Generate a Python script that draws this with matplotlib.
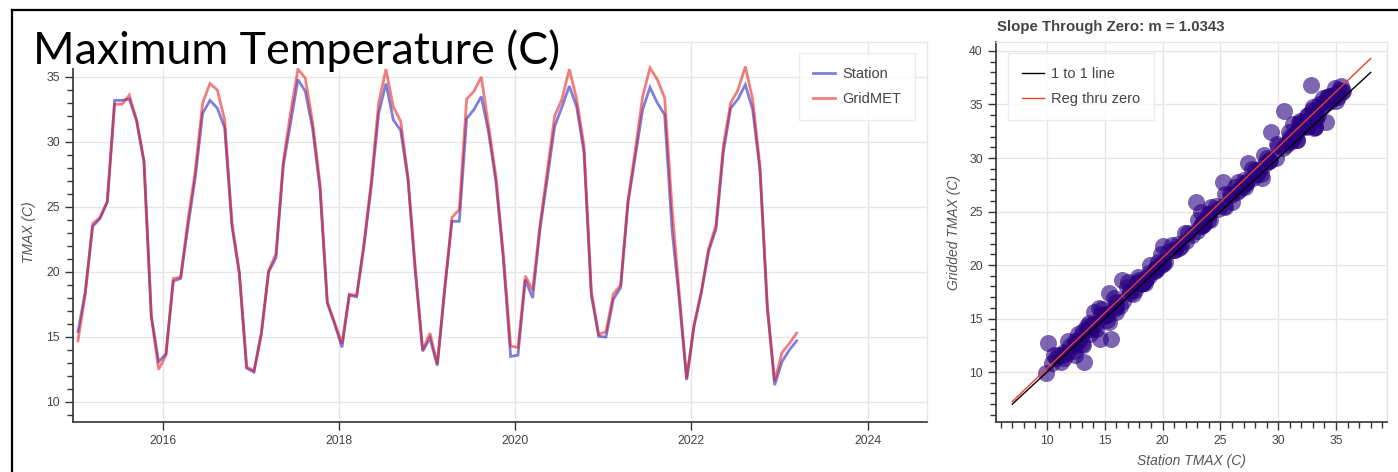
import numpy as np
import matplotlib
matplotlib.use("Agg")
import matplotlib.pyplot as plt
from matplotlib.ticker import MultipleLocator, FixedLocator
from matplotlib.lines import Line2D
from matplotlib.patches import Rectangle

# ---- monthly mean maximum temperature, Jan 2015 .. Mar 2023 (deg C) ----
start_year = 2015
station_tmax = [
    15.4, 18.5, 23.5, 24.1, 25.4, 33.2, 33.2, 33.3, 31.6, 28.5, 16.6, 13.1,
    13.7, 19.3, 19.5, 23.5, 27.3, 32.2, 33.2, 32.6, 31.1, 23.5, 19.9, 12.6,
    12.3, 15.2, 20.0, 21.1, 28.2, 31.5, 34.8, 33.9, 31.0, 26.4, 17.6, 16.0,
    14.2, 18.2, 18.1, 22.0, 26.6, 32.2, 34.5, 31.7, 30.9, 27.1, 20.0, 13.9,
    14.9, 12.8, 18.6, 23.9, 23.9, 31.8, 32.5, 33.5, 30.7, 26.9, 21.0, 13.5,
    13.6, 19.4, 18.0, 23.3, 27.2, 31.2, 32.7, 34.3, 32.7, 29.2, 18.2, 15.05,
    15.0, 17.9, 18.8, 25.3, 28.9, 32.5, 34.2, 33.0, 32.1, 23.3, 17.8, 11.7,
    15.8, 18.4, 21.6, 23.3, 29.2, 32.6, 33.3, 34.4, 32.5, 27.8, 17.2, 11.3,
    13.1, 14.0, 14.7,
]
gridmet_tmax = [
    14.7, 18.3, 23.7, 24.2, 25.4, 32.9, 32.9, 33.6, 31.7, 28.5, 16.6, 12.5,
    13.6, 19.5, 19.6, 24.0, 27.8, 33.0, 34.5, 34.0, 31.7, 23.8, 20.0, 12.7,
    12.4, 15.3, 20.1, 21.4, 28.5, 32.3, 35.6, 34.9, 31.5, 26.8, 17.7, 16.1,
    14.5, 18.3, 18.2, 22.2, 27.0, 33.0, 35.6, 32.7, 31.6, 27.3, 20.3, 14.0,
    15.3, 12.9, 18.7, 24.2, 24.8, 33.3, 33.9, 35.0, 31.2, 27.3, 21.4, 14.3,
    14.2, 19.7, 18.6, 23.6, 27.8, 32.0, 33.3, 35.6, 33.3, 29.7, 18.5, 15.2,
    15.4, 18.3, 19.0, 25.5, 29.4, 33.5, 35.7, 34.8, 33.4, 25.0, 18.3, 11.8,
    15.9, 18.5, 21.8, 23.6, 29.7, 33.0, 34.0, 35.8, 33.3, 28.1, 17.4, 11.6,
    13.8, 14.5, 15.3,
]

# additional station/gridded pairs from the longer period of record
extra_station = [
    9.9, 10.1, 13.2, 14.6, 15.5, 16.5, 15.4, 14.1, 22.9, 25.2,
    27.4, 28.6, 29.4, 30.5, 31.6, 32.8, 33.1, 35.0, 35.3, 35.5,
    35.2, 34.9, 35.6, 10.4, 10.8, 11.0, 11.5, 12.0, 12.4, 12.9,
    13.5, 16.0, 17.2, 18.8, 19.6, 20.5, 21.3, 22.2, 24.0, 24.6,
    25.8, 26.3, 27.0, 28.0, 29.0, 30.0, 31.0, 33.8, 34.2, 34.6,
    10.6, 11.2, 11.8, 12.3, 12.7, 13.0, 13.6, 14.2, 14.8, 15.2,
    15.8, 16.3, 16.9, 17.4, 17.9, 18.3, 18.9, 19.3, 19.9, 20.2,
    20.8, 21.4, 21.9, 22.5, 23.1, 23.6, 24.2, 24.8, 25.4, 25.9,
    26.5, 27.1, 27.7, 28.3, 28.8, 29.3, 29.9, 30.4, 30.9, 31.4,
    31.9, 32.4, 32.9, 33.4, 33.9, 34.4, 35.0, 35.4, 34.1, 33.0,
    20.0, 17.0, 12.4, 11.5, 26.0, 29.8, 31.3, 14.5, 16.0, 23.0,
]
extra_gridded = [
    9.9, 12.7, 10.9, 13.1, 13.1, 18.6, 17.4, 15.6, 25.9, 27.8,
    29.5, 28.1, 32.4, 34.4, 31.7, 36.8, 32.8, 36.0, 36.4, 36.2,
    35.7, 36.5, 36.3, 10.8, 11.3, 11.6, 11.9, 12.4, 12.9, 13.4,
    13.9, 16.5, 17.6, 19.3, 20.3, 21.2, 22.0, 23.0, 24.8, 25.5,
    26.6, 27.3, 27.9, 28.9, 30.0, 31.1, 32.0, 35.0, 35.4, 35.8,
    11.6, 10.9, 12.9, 12.0, 13.6, 12.6, 14.6, 14.0, 15.9, 14.9,
    16.9, 16.2, 17.9, 17.3, 18.9, 18.3, 20.0, 19.4, 21.0, 20.3,
    21.9, 21.6, 23.0, 22.8, 24.2, 23.9, 25.4, 25.2, 26.6, 26.5,
    27.8, 27.6, 29.0, 28.9, 30.3, 29.8, 31.3, 30.9, 32.4, 31.9,
    33.5, 32.9, 34.5, 34.0, 35.6, 35.2, 35.3, 36.7, 33.4, 33.6,
    21.8, 18.4, 11.6, 11.3, 25.9, 30.0, 33.2, 16.0, 15.6, 23.2,
]

slope_m = 1.0343
line_x = [7, 38]

year_ticks = [2016, 2018, 2020, 2022, 2024]
ts_yticks = [10, 15, 20, 25, 30, 35]
sc_xticks = [10, 15, 20, 25, 30, 35]
sc_yticks = [10, 15, 20, 25, 30, 35, 40]

# ---------------------------------------------------------------------------
W, H = 1398, 472
plt.rcParams["font.family"] = ["Liberation Sans", "DejaVu Sans"]
fig = plt.figure(figsize=(W / 100, H / 100), dpi=100)
fig.patch.set_facecolor("white")

def px_axes(x0, y0, x1, y1):
    return fig.add_axes([x0 / W, 1 - y1 / H, (x1 - x0) / W, (y1 - y0) / H])

TICK_C = "#444444"
GRID_C = "#e6e6e6"
AXIS_C = "#333333"

def style_axes(ax):
    ax.set_facecolor("white")
    ax.grid(True, which="major", color=GRID_C, lw=1.0)
    ax.set_axisbelow(True)
    for s in ("top", "right"):
        ax.spines[s].set_color(GRID_C)
        ax.spines[s].set_linewidth(1.0)
    for s in ("left", "bottom"):
        ax.spines[s].set_color(AXIS_C)
        ax.spines[s].set_linewidth(1.2)
    ax.tick_params(which="major", direction="out", length=6, width=1,
                   color=AXIS_C, labelcolor=TICK_C, labelsize=8.8)
    ax.tick_params(which="minor", direction="out", length=4, width=1,
                   color=AXIS_C)
    ax.tick_params(axis="x", which="both", top=False)
    ax.tick_params(axis="y", which="both", right=False)

# ---- time series panel ----
ax1 = px_axes(73, 42, 927, 422)
style_axes(ax1)
months = np.arange(len(station_tmax))
t = start_year + (months + 0.34) / 12.0
ax1.plot(t, station_tmax, color="#1414be", alpha=0.55, lw=2.0, label="Station",
         solid_joinstyle="miter")
ax1.plot(t, gridmet_tmax, color="#e61414", alpha=0.55, lw=2.0, label="GridMET",
         solid_joinstyle="miter")
ax1.set_xlim(2014.972, 2024.676)
ax1.set_ylim(8.46, 37.69)
ax1.xaxis.set_major_locator(FixedLocator(year_ticks))
ax1.set_xticklabels([str(y) for y in year_ticks])
ax1.yaxis.set_major_locator(FixedLocator(ts_yticks))
ax1.yaxis.set_minor_locator(MultipleLocator(1))
ax1.set_ylabel("TMAX (C)", fontstyle="italic", color="#555555", fontsize=10,
               labelpad=7)
leg1 = ax1.legend(loc="upper right", bbox_to_anchor=(0.986, 0.971),
                  borderaxespad=0, frameon=True, fancybox=False,
                  edgecolor="#e8e8e8", fontsize=10.5, handlelength=1.5,
                  handletextpad=0.5, borderpad=0.95, labelspacing=0.75)
leg1.get_frame().set_linewidth(1.0)
for txt in leg1.get_texts():
    txt.set_color(TICK_C)

# ---- scatter panel ----
ax2 = px_axes(996, 42, 1387, 422)
style_axes(ax2)
sc_x = list(station_tmax) + extra_station
sc_y = list(gridmet_tmax) + extra_gridded
ax2.scatter(sc_x, sc_y, s=150, color="#280080", alpha=0.6, linewidths=0,
            zorder=2)
lx = np.array(line_x, dtype=float)
ax2.plot(lx, lx, color="black", lw=1.0, zorder=3, label="1 to 1 line")
ax2.plot(lx, slope_m * lx, color="#e8412c", lw=1.0, zorder=4,
         label="Reg thru zero")
ax2.set_xlim(5.59, 39.41)
ax2.set_ylim(5.33, 40.84)
ax2.xaxis.set_major_locator(FixedLocator(sc_xticks))
ax2.yaxis.set_major_locator(FixedLocator(sc_yticks))
ax2.xaxis.set_minor_locator(MultipleLocator(1))
ax2.yaxis.set_minor_locator(MultipleLocator(1))
ax2.set_xlabel("Station TMAX (C)", fontstyle="italic", color="#555555",
               fontsize=10, labelpad=5)
ax2.set_ylabel("Gridded TMAX (C)", fontstyle="italic", color="#555555",
               fontsize=10, labelpad=6)
ax2.set_title(f"Slope Through Zero: m = {slope_m:.4f}", loc="left",
              fontsize=10.8, fontweight="bold", color="#444444", pad=8, x=0.003)
leg2 = ax2.legend(loc="upper left", bbox_to_anchor=(0.031, 0.971),
                  borderaxespad=0, frameon=True, fancybox=False,
                  edgecolor="#e8e8e8", fontsize=10.5, handlelength=1.5,
                  handletextpad=0.5, borderpad=0.95, labelspacing=0.75)
leg2.get_frame().set_linewidth(1.0)
for txt in leg2.get_texts():
    txt.set_color(TICK_C)

# ---- slide title block and frame ----
fig.patches.append(Rectangle((12 / W, 1 - 68 / H), (640 - 12) / W, (68 - 10) / H,
                             transform=fig.transFigure, facecolor="white",
                             edgecolor="none", zorder=5))
fig.text(33 / W, 1 - 64 / H, "Maximum Temperature (C)", fontsize=32.2,
         family=["Lato", "DejaVu Sans"], color="black", ha="left",
         va="baseline", zorder=6)
fig.add_artist(Line2D([12 / W, 12 / W], [0, 1 - 10 / H], transform=fig.transFigure,
                      color="black", lw=1.6, zorder=7))
fig.add_artist(Line2D([12 / W, 1], [1 - 10 / H, 1 - 10 / H],
                      transform=fig.transFigure, color="black", lw=1.6, zorder=7))

fig.savefig("out.png", dpi=100, facecolor="white")
